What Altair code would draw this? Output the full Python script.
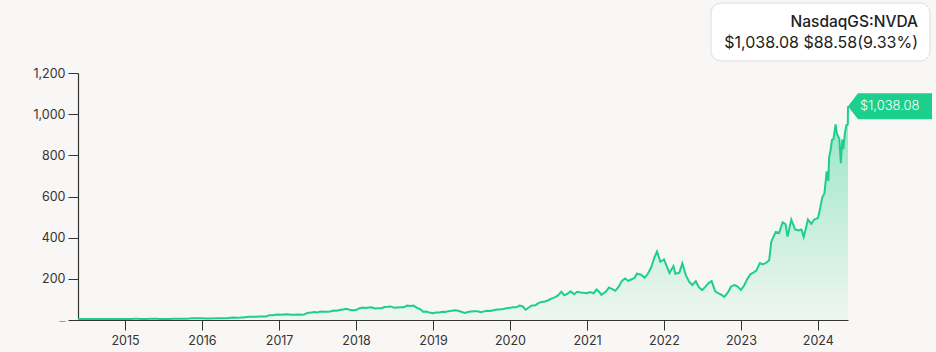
import altair as alt
import pandas as pd

# ---- data (NasdaqGS:NVDA close, USD) ----
dates = [
    "2014-05-23", "2014-06-15", "2014-07-01", "2014-07-15", "2014-08-01", "2014-08-15", "2014-09-01", "2014-09-15",
    "2014-10-01", "2014-10-15", "2014-11-01", "2014-11-15", "2014-12-01", "2014-12-15",
    "2015-01-01", "2015-01-15", "2015-02-01", "2015-02-15", "2015-03-01", "2015-03-15", "2015-04-01", "2015-04-15",
    "2015-05-01", "2015-05-15", "2015-06-01", "2015-06-15", "2015-07-01", "2015-07-15", "2015-08-01", "2015-08-15",
    "2015-09-01", "2015-09-15", "2015-10-01", "2015-10-15", "2015-11-01", "2015-11-15", "2015-12-01", "2015-12-15",
    "2016-01-01", "2016-01-15", "2016-02-01", "2016-02-15", "2016-03-01", "2016-03-15", "2016-04-01", "2016-04-15",
    "2016-05-01", "2016-05-15", "2016-06-01", "2016-06-15", "2016-07-01", "2016-07-15", "2016-08-01", "2016-08-15",
    "2016-09-01", "2016-09-15", "2016-10-01", "2016-10-15", "2016-11-01", "2016-11-15", "2016-12-01", "2016-12-15",
    "2017-01-01", "2017-01-15", "2017-02-01", "2017-02-15", "2017-03-01", "2017-03-15", "2017-04-01", "2017-04-15",
    "2017-05-01", "2017-05-15", "2017-06-01", "2017-06-15", "2017-07-01", "2017-07-15", "2017-08-01", "2017-08-15",
    "2017-09-01", "2017-09-15", "2017-10-01", "2017-10-15", "2017-11-01", "2017-11-15", "2017-12-01", "2017-12-15",
    "2018-01-01", "2018-01-15", "2018-02-01", "2018-02-15", "2018-03-01", "2018-03-15", "2018-04-01", "2018-04-15",
    "2018-05-01", "2018-05-15", "2018-06-01", "2018-06-15", "2018-07-01", "2018-07-15", "2018-08-01", "2018-08-15",
    "2018-09-01", "2018-09-15", "2018-10-01", "2018-10-15", "2018-11-01", "2018-11-15", "2018-12-01", "2018-12-15",
    "2019-01-01", "2019-01-15", "2019-02-01", "2019-02-15", "2019-03-01", "2019-03-15", "2019-04-01", "2019-04-15",
    "2019-05-01", "2019-05-15", "2019-06-01", "2019-06-15", "2019-07-01", "2019-07-15", "2019-08-01", "2019-08-15",
    "2019-09-01", "2019-09-15", "2019-10-01", "2019-10-15", "2019-11-01", "2019-11-15", "2019-12-01", "2019-12-15",
    "2020-01-01", "2020-01-15", "2020-02-01", "2020-02-15", "2020-03-01", "2020-03-16", "2020-04-01", "2020-04-15",
    "2020-05-01", "2020-05-15", "2020-06-01", "2020-06-15", "2020-07-01", "2020-07-15", "2020-08-01", "2020-08-15",
    "2020-09-01", "2020-09-15", "2020-10-01", "2020-10-15", "2020-11-01", "2020-11-15", "2020-12-01", "2020-12-15",
    "2021-01-01", "2021-01-15", "2021-02-01", "2021-02-15", "2021-03-01", "2021-03-10", "2021-04-01", "2021-04-15",
    "2021-05-01", "2021-05-15", "2021-06-01", "2021-06-15", "2021-07-01", "2021-07-15", "2021-08-01", "2021-08-15",
    "2021-08-25", "2021-09-15", "2021-10-01", "2021-10-15", "2021-11-01", "2021-11-15", "2021-11-29", "2021-12-15",
    "2022-01-01", "2022-01-15", "2022-01-27", "2022-02-15", "2022-02-24", "2022-03-15", "2022-03-29", "2022-04-15",
    "2022-05-01", "2022-05-15", "2022-06-01", "2022-06-15", "2022-07-01", "2022-07-15", "2022-08-01", "2022-08-15",
    "2022-09-01", "2022-09-15", "2022-10-01", "2022-10-14", "2022-11-01", "2022-11-15", "2022-12-01", "2022-12-15",
    "2023-01-01", "2023-01-15", "2023-02-01", "2023-02-15", "2023-03-01", "2023-03-15", "2023-04-01", "2023-04-15",
    "2023-05-01", "2023-05-15", "2023-05-25", "2023-06-15", "2023-07-01", "2023-07-18", "2023-08-01", "2023-08-10",
    "2023-08-28", "2023-09-15", "2023-10-01", "2023-10-15", "2023-10-26", "2023-11-15", "2023-12-01", "2023-12-15",
    "2024-01-01", "2024-01-08", "2024-01-22", "2024-02-01", "2024-02-12", "2024-02-20", "2024-02-23", "2024-03-01",
    "2024-03-08", "2024-03-15", "2024-03-25", "2024-04-01", "2024-04-12", "2024-04-19", "2024-04-26", "2024-05-01",
    "2024-05-08", "2024-05-15", "2024-05-22", "2024-05-23",
]
prices = [
    4.7, 4.7, 4.7, 4.5, 4.4, 4.6, 4.9, 4.9, 4.6, 4.3, 4.8, 5.1, 5.1, 4.9,
    5.0, 4.8, 4.9, 5.5, 5.8, 5.3, 5.2, 5.4, 5.5, 5.5, 5.5, 5.1, 5.0, 5.1, 5.0, 5.6,
    5.5, 5.9, 6.2, 6.6, 7.1, 8.2, 8.4, 8.1,
    8.2, 7.1, 7.4, 7.5, 7.9, 8.8, 8.9, 9.1, 8.9, 11.4, 11.8, 11.5, 11.8, 12.4, 14.3, 15.4,
    15.4, 16.0, 17.1, 16.6, 17.3, 23.4, 23.0, 25.4,
    26.7, 26.0, 28.0, 27.0, 25.2, 25.8, 27.2, 25.0, 26.8, 34.3, 35.9, 39.0, 36.0, 41.5, 40.6, 40.0,
    41.2, 45.6, 44.7, 48.6, 51.5, 54.0, 50.0, 47.5,
    48.4, 56.0, 61.0, 58.5, 60.5, 61.8, 56.0, 56.5, 56.5, 63.0, 64.0, 66.0, 59.5, 61.0, 62.0, 62.5,
    70.0, 68.0, 70.2, 60.5, 53.0, 40.0, 41.0, 36.0,
    33.4, 36.5, 36.0, 39.5, 39.0, 43.0, 45.0, 47.5, 45.0, 40.0, 34.5, 38.5, 41.5, 42.5, 42.0, 37.5,
    42.0, 44.5, 43.5, 47.5, 51.0, 51.5, 53.5, 57.5,
    59.0, 62.0, 61.5, 70.0, 67.0, 50.0, 62.0, 70.0, 72.0, 82.0, 88.0, 90.0, 96.0, 104.0, 110.0, 118.0,
    137.0, 120.0, 128.0, 139.0, 125.0, 137.0, 134.0, 132.0,
    130.5, 136.0, 130.0, 148.0, 135.0, 122.0, 138.0, 158.0, 150.0, 142.0, 163.0, 190.0, 202.0, 190.0, 198.0, 205.0,
    225.0, 220.0, 205.0, 222.0, 255.0, 300.0, 333.0, 283.0,
    294.0, 259.0, 228.0, 262.0, 225.0, 230.0, 275.0, 217.0, 185.0, 170.0, 188.0, 160.0, 145.0, 160.0, 180.0, 189.0,
    139.0, 131.0, 122.0, 112.0, 135.0, 163.0, 170.0, 164.0,
    146.0, 165.0, 200.0, 222.0, 230.0, 240.0, 277.0, 270.0, 278.0, 290.0, 380.0, 428.0, 423.0, 475.0, 465.0, 405.0,
    487.0, 440.0, 435.0, 440.0, 403.0, 488.0, 467.0, 488.0,
    495.0, 523.0, 596.0, 615.0, 722.0, 675.0, 788.0, 822.0, 875.0, 878.0, 950.0, 903.0, 880.0, 762.0, 877.0, 830.0,
    905.0, 946.0, 949.5, 1038.08,
]
y_ticks = [0, 200, 400, 600, 800, 1000, 1200]
ticker = "NasdaqGS:NVDA"
last_price = 1038.08
change = 88.58
change_pct = 9.33

GREEN = "#1dcf8c"
FONT = "Inter"

df = pd.DataFrame({"date": pd.to_datetime(dates), "price": prices})
last = df.tail(1).copy()
last["label"] = f"${last_price:,.2f}"
info = pd.DataFrame({
    "title": [ticker],
    "quote": [f"${last_price:,.2f} ${change:,.2f}({change_pct:.2f}%)"],
})

x_enc = alt.X(
    "date:T",
    title=None,
    scale=alt.Scale(domain=[dates[0], dates[-1]], nice=False),
    axis=alt.Axis(
        format="%Y",
        tickCount={"interval": "year", "step": 1},
        grid=False,
        domainColor="#333333",
        domainWidth=1.2,
        tickColor="#333333",
        tickSize=10,
        labelPadding=4,
        labelFontSize=12.5,
        labelColor="#333333",
        labelFont=FONT,
        labelFlush=False,
    ),
)
y_enc = alt.Y(
    "price:Q",
    title=None,
    scale=alt.Scale(domain=[0, 1200], nice=False),
    axis=alt.Axis(
        values=y_ticks,
        format=",.0f",
        labelExpr="datum.value == 0 ? '–' : datum.label",
        grid=False,
        domainColor="#333333",
        domainWidth=1.2,
        tickColor="#333333",
        tickSize=10,
        labelPadding=3,
        labelFontSize=12.5,
        labelColor={"condition": {"test": "datum.value == 0", "value": "#9a9a9a"}, "value": "#333333"},
        labelFont=FONT,
    ),
)

base = alt.Chart(df)

area = base.mark_area(
    line=False,
    color=alt.Gradient(
        gradient="linear",
        stops=[
            alt.GradientStop(color="rgba(29,207,140,0.45)", offset=0),
            alt.GradientStop(color="rgba(29,207,140,0.04)", offset=1),
        ],
        x1=0, x2=0, y1=0, y2=1,
    ),
).encode(x=x_enc, y=y_enc)

line = base.mark_line(color=GREEN, strokeWidth=2).encode(x="date:T", y="price:Q")

tag_path = "M0,0L0.119,-0.155L1,-0.155L1,0.155L0.119,0.155Z"
tag = alt.Chart(last).mark_point(
    shape=tag_path, size=168 * 168, filled=True, color=GREEN, opacity=1, strokeWidth=0
).encode(x="date:T", y="price:Q")

tag_text = alt.Chart(last).mark_text(
    align="left", baseline="middle", dx=12, color="white", fontSize=13, font=FONT, fontWeight=300
).encode(x="date:T", y="price:Q", text="label:N")

box = alt.Chart(info).mark_rect(
    fill="white", stroke="#dddddd", strokeWidth=1, cornerRadius=10
).encode(x=alt.value(633), x2=alt.value(852), y=alt.value(-70), y2=alt.value(-12))

box_title = alt.Chart(info).mark_text(
    align="right", baseline="alphabetic", fontSize=15.5, fontWeight=500, color="#222222", font=FONT
).encode(x=alt.value(840), y=alt.value(-46), text="title:N")

box_quote = alt.Chart(info).mark_text(
    align="right", baseline="alphabetic", fontSize=16, color="#222222", font=FONT
).encode(x=alt.value(840), y=alt.value(-25), text="quote:N")

chart = alt.layer(area, line, tag, tag_text, box, box_title, box_quote).properties(
    width=770,
    height=247,
    autosize=alt.AutoSizeParams(type="none"),
    padding={"left": 78, "top": 73, "right": 88, "bottom": 32},
    background="#f8f7f5",
).configure_view(stroke=None)

chart.save("out.html", embed_options={"renderer": "svg", "actions": False})
